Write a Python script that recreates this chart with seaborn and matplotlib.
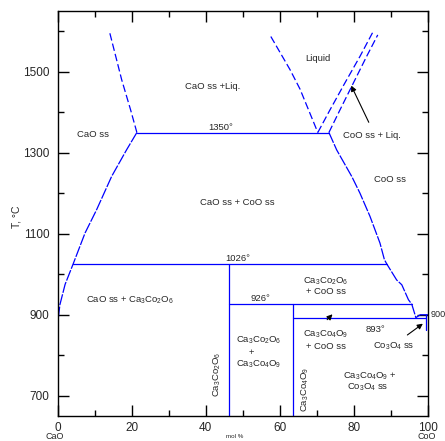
import matplotlib
matplotlib.use("Agg")
import matplotlib.pyplot as plt
import seaborn as sns
import pandas as pd

# ---- data (x = mol % CoO, T in deg C) ----
cao_liq_x = [14.1, 17.3, 19.7, 21.4]
cao_liq_T = [1595, 1480, 1406, 1350]

liq_left_x = [57.6, 62.8, 65.5, 70.3]
liq_left_T = [1587, 1505, 1457, 1350]

coo_liq_x = [70.3, 73.6, 77.6, 81.7, 85.3]
coo_liq_T = [1350, 1406, 1472, 1538, 1600]

coo_sol_x = [73.3, 76.3, 79.9, 83.5, 86.5]
coo_sol_T = [1350, 1406, 1472, 1538, 1591]

cao_solvus_x = [21.4, 18.6, 14.6, 10.5, 7.4, 4.2, 2.0, 0.6, 0.0]
cao_solvus_T = [1350, 1307, 1242, 1159, 1102, 1026, 975, 925, 880]

coo_solvus_x = [73.3, 75.4, 79.5, 81.7, 84.4, 87.1, 88.3, 88.9, 91.6, 93.0, 94.8, 95.7, 96.8]
coo_solvus_T = [1350, 1307, 1241, 1200, 1143, 1077, 1036, 1026, 986, 974, 937, 926, 893]

co3o4_x = [96.8, 98.0, 100.0]
co3o4_T = [893, 900, 900]

# invariant (horizontal) lines: temperature, x start, x end
inv_T = [1350, 1026, 926, 893]
inv_x0 = [21.4, 4.2, 46.4, 63.7]
inv_x1 = [73.3, 88.9, 95.7, 99.6]

# compound / boundary verticals: x, T bottom, T top
vert_x = [46.4, 63.7, 99.6]
vert_T0 = [650, 650, 863]
vert_T1 = [1026, 926, 900]

x_ticks = [0, 20, 40, 60, 80, 100]
y_ticks = [700, 900, 1100, 1300, 1500]

sns.set_style("ticks")
plt.rcParams['font.family'] = ['Liberation Sans', 'DejaVu Sans']
plt.rcParams['mathtext.fontset'] = 'custom'
plt.rcParams['mathtext.rm'] = 'Liberation Sans'
plt.rcParams['mathtext.it'] = 'Liberation Sans:italic'

fig = plt.figure(figsize=(4.45, 4.41), dpi=100)
ax = fig.add_axes([57.7 / 445, 25 / 441, 370 / 445, 405 / 441])

blue = (0, 0, 1)
dash_liq = (0, (6, 2.5))
dash_sol = (0, (9, 1.2))

def line(xs, ts, ls='-'):
    df = pd.DataFrame({'x': xs, 'T': ts})
    sns.lineplot(data=df, x='x', y='T', sort=False, estimator=None, ax=ax,
                 color=blue, linewidth=0.9, linestyle=ls)

line(cao_liq_x, cao_liq_T, dash_liq)
line(liq_left_x, liq_left_T, dash_liq)
line(coo_liq_x, coo_liq_T, dash_liq)
line(coo_sol_x, coo_sol_T, dash_liq)
line(cao_solvus_x, cao_solvus_T, dash_sol)
line(coo_solvus_x, coo_solvus_T, dash_sol)
line(co3o4_x, co3o4_T)
for T, a, b in zip(inv_T, inv_x0, inv_x1):
    line([a, b], [T, T])
for x, a, b in zip(vert_x, vert_T0, vert_T1):
    line([x, x], [a, b])

ax.set_xlim(0, 100)
ax.set_ylim(650, 1650)
ax.set_xticks(x_ticks)
ax.set_yticks(y_ticks)
ax.set_xticks(range(10, 100, 20), minor=True)
ax.set_yticks([800, 1000, 1200, 1400, 1600], minor=True)
ax.tick_params(which='both', direction='in', top=True, right=True, width=1, color='black')
ax.tick_params(which='major', length=8, labelsize=8.5)
ax.tick_params(which='minor', length=4)
ax.tick_params(axis='y', pad=6)
ax.tick_params(axis='x', pad=4)
for s in ax.spines.values():
    s.set_visible(True)
    s.set_linewidth(1.0)
    s.set_color('black')
ax.set_xlabel('')
ax.set_ylabel('')

fs = 6.8
def t(x, y, s, **kw):
    kw.setdefault('ha', 'center')
    kw.setdefault('va', 'center')
    ax.text(x, y, s, fontsize=kw.pop('fontsize', fs), **kw)

t(70.4, 1532, 'Liquid')
t(9.5, 1344, 'CaO ss')
t(41.8, 1464, 'CaO ss +Liq.')
t(44.1, 1362, '1350°')
t(84.9, 1343, 'CoO ss + Liq.')
t(89.8, 1235, 'CoO ss')
t(48.5, 1177, 'CaO ss + CoO ss')
t(48.8, 1040, '1026°')
t(72.5, 983, 'Ca$_3$Co$_2$O$_6$')
t(72.5, 957, '+ CoO ss')
t(19.5, 937, 'CaO ss + Ca$_3$Co$_2$O$_6$')
t(54.7, 939, '926°')
t(54.2, 838, 'Ca$_3$Co$_2$O$_6$')
t(52.3, 808, '+')
t(54.2, 777, 'Ca$_3$Co$_4$O$_9$')
t(43.0, 752, 'Ca$_3$Co$_2$O$_6$', rotation=90)
t(72.5, 851, 'Ca$_3$Co$_4$O$_9$')
t(72.5, 822, '+ CoO ss')
t(86.0, 863, '893°')
t(90.9, 822, 'Co$_3$O$_4$ ss')
t(84.4, 749, 'Ca$_3$Co$_4$O$_9$ +')
t(83.7, 720, 'Co$_3$O$_4$ ss')
t(66.8, 715, 'Ca$_3$Co$_4$O$_9$', rotation=90)
ax.text(100.9, 900, '900', fontsize=6.6, ha='left', va='center', clip_on=False)

arrow = dict(arrowstyle='-|>', color='black', lw=0.8, mutation_scale=8)
ax.annotate('', xy=(79.0, 1472), xytext=(84.4, 1369), arrowprops=arrow)
ax.annotate('', xy=(99.3, 882), xytext=(93.9, 846), arrowprops=arrow)
ax.annotate('', xy=(74.8, 906), xytext=(72.3, 883), arrowprops=arrow)

fig.text(16.7 / 445, 1 - 216.7 / 441, 'T, °C', rotation=90, fontsize=7.5, ha='center', va='center')
fig.text(55 / 445, 1 - 436.7 / 441, 'CaO', fontsize=6.5, ha='center', va='center')
fig.text(426.7 / 445, 1 - 436.7 / 441, 'CoO', fontsize=6.5, ha='center', va='center')
fig.text(235 / 445, 1 - 436.7 / 441, 'mol %', fontsize=4.5, ha='center', va='center')

fig.savefig('out.png', dpi=100)
